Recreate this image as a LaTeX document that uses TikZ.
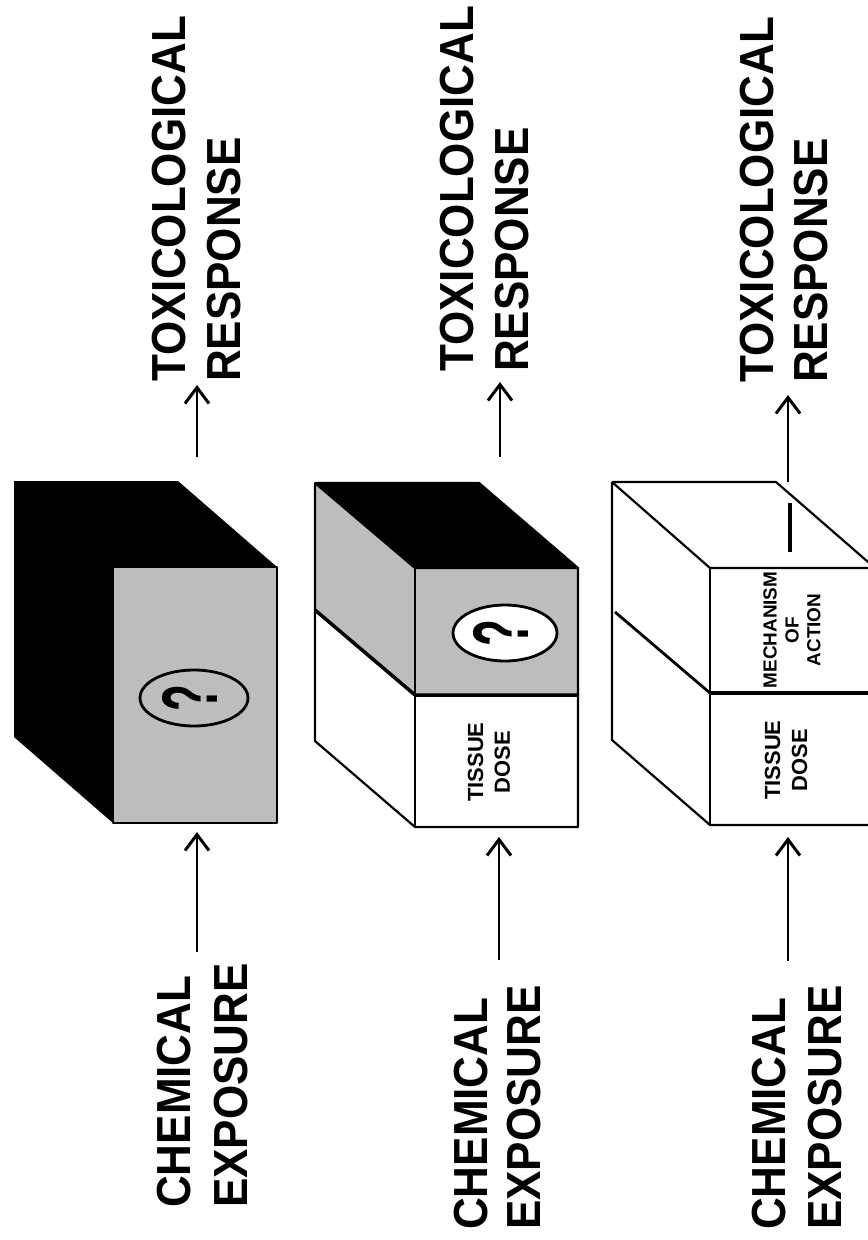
\documentclass[tikz,border=0pt]{standalone}
\usepackage{fontspec}
\usepackage{graphicx}
\setmainfont{Liberation Sans}
\usetikzlibrary{arrows.meta}
\definecolor{stip}{gray}{0.74}
\newcommand\sqz[1]{\scalebox{0.92}[1]{#1}}
\tikzset{
  big/.style={rotate=90, anchor=base west, inner sep=0pt, font=\fontsize{48}{50}\selectfont\bfseries},
  small/.style={rotate=90, align=center, inner sep=0pt, font=\fontsize{22}{27}\selectfont\bfseries},
  tiny/.style={rotate=90, align=center, inner sep=0pt, font=\fontsize{19}{22}\selectfont\bfseries},
  qm/.style={rotate=90, inner sep=0pt, font=\fontsize{44}{44}\selectfont\bfseries},
  edge/.style={line width=2.2bp, line join=round},
  arr/.style={line width=2.8bp, -{Straight Barb[length=16bp,width=24bp,line width=3bp]}},
  oval/.style={line width=2.8bp}
}
\begin{document}
\begin{tikzpicture}[x=1bp,y=-1bp]
\useasboundingbox (0,0) rectangle (868,1240);
\fill[white] (0,0) rectangle (868,1240);

% ---------- Box 1 ----------
\fill[black] (14,481) -- (178,481) -- (277,567) -- (113,567) -- (113,823) -- (14,737) -- cycle;
\fill[stip] (113,567) rectangle (277,823);
\draw[edge] (113,567) rectangle (277,823);
\draw[oval, fill=stip] (194,698) ellipse [x radius=54, y radius=28];
\node[qm] (q1) at (190,698) {\scalebox{1}[1.8]{?}};
\coordinate (b1top) at (197,457);
\coordinate (b1bot) at (197,832);

% ---------- Box 2 ----------
\fill[black] (315,483) -- (479,483) -- (578,568) -- (415,568) -- cycle;
\fill[stip] (315,483) -- (415,568) -- (415,695) -- (315,610) -- cycle;
\fill[white] (315,610) -- (415,695) -- (415,827) -- (315,741) -- cycle;
\fill[stip] (415,568) rectangle (578,695);
\draw[edge] (315,483) -- (479,483) -- (578,568) -- (578,827) -- (415,827) -- (315,741) -- cycle;
\draw[edge] (315,483) -- (415,568) -- (578,568);
\draw[edge] (415,568) -- (415,827);
\draw[line width=3.5bp] (315,610) -- (415,695) -- (578,695);
\draw[oval, fill=white] (505,633) ellipse [x radius=52, y radius=28];
\node[qm] (q2) at (501,633) {\scalebox{1}[1.8]{?}};
\node[small] (td2) at (489,762) {TISSUE\\DOSE};
\coordinate (b2top) at (500,457);
\coordinate (b2bot) at (499,837);

% ---------- Box 3 ----------
\draw[edge] (612,482) -- (776,482) -- (875,568);
\draw[edge] (612,482) -- (710,568) -- (875,568);
\draw[edge] (612,482) -- (612,740) -- (710,825) -- (875,825);
\draw[edge] (710,568) -- (710,825);
\draw[line width=2.8bp] (615,612) -- (710,693);
\draw[line width=4bp] (710,693) -- (875,693);
\draw[line width=4bp] (790,503) -- (790,552);
\node[tiny] (moa3) at (792,630) {MECHANISM\\OF\\ACTION};
\node[small] (td3) at (786,760) {TISSUE\\DOSE};
\coordinate (b3top) at (788,482);
\coordinate (b3bot) at (788,837);

% ---------- Labels ----------
\node[big] (chem1) at (190,1208) {\sqz{CHEMICAL}};
\node[big] (expo1) at (247,1208) {\sqz{EXPOSURE}};
\node[big] (tox1) at (185,382) {\sqz{TOXICOLOGICAL}};
\node[big] (resp1) at (240,382) {\sqz{RESPONSE}};

\node[big] (chem2) at (487,1230) {\sqz{CHEMICAL}};
\node[big] (expo2) at (540,1230) {\sqz{EXPOSURE}};
\node[big] (tox2) at (473,372) {\sqz{TOXICOLOGICAL}};
\node[big] (resp2) at (528,372) {\sqz{RESPONSE}};

\node[big] (chem3) at (785,1230) {\sqz{CHEMICAL}};
\node[big] (expo3) at (841,1230) {\sqz{EXPOSURE}};
\node[big] (tox3) at (773,383) {\sqz{TOXICOLOGICAL}};
\node[big] (resp3) at (827,383) {\sqz{RESPONSE}};

% ---------- Arrows ----------
\coordinate (e1) at (197,952);
\coordinate (e2) at (499,960);
\coordinate (e3) at (788,961);
\coordinate (r1) at (197,385);
\coordinate (r2) at (500,382);
\coordinate (r3) at (788,395);
\draw[arr] (e1) -- (b1bot);
\draw[arr] (e2) -- (b2bot);
\draw[arr] (e3) -- (b3bot);
\draw[arr] (b1top) -- (r1);
\draw[arr] (b2top) -- (r2);
\draw[arr] (b3top) -- (r3);
\end{tikzpicture}
\end{document}
